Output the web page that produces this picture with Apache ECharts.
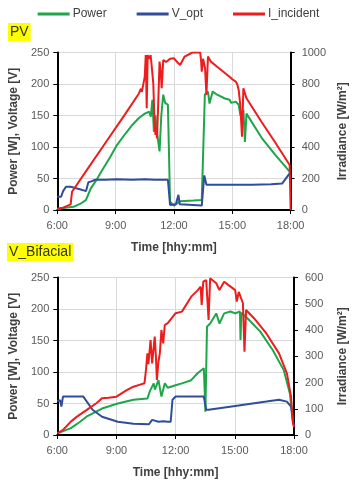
<!DOCTYPE html>
<html>
<head>
<meta charset="utf-8">
<script src="https://cdn.jsdelivr.net/npm/echarts@6/dist/echarts.min.js"></script>
<style>
    html, body { margin: 0; padding: 0; background: #fff; }
    #chart { width: 357px; height: 480px; }
</style>
</head>
<body>
<div id="chart"></div>
<script>

// time in hours
const timeTicks = [6, 9, 12, 15, 18];

const pvPower = [
    [6.0, 1.5], [6.5, 4], [6.84, 5], [7.2, 10], [7.48, 16], [7.6, 25], [7.72, 34], [8.0, 47],
    [8.27, 61], [8.7, 83], [9.07, 103], [9.5, 121], [9.86, 135], [10.2, 146], [10.5, 153],
    [10.73, 156], [10.81, 148], [10.89, 175], [10.97, 124], [11.05, 150], [11.1, 130],
    [11.26, 93], [11.35, 150], [11.45, 183], [11.55, 170], [11.69, 167], [11.8, 13], [12.0, 7],
    [12.32, 14], [13.0, 15], [13.43, 16], [13.59, 183], [13.75, 188], [13.83, 169], [13.99, 188],
    [14.22, 183], [14.62, 177], [14.86, 175], [14.95, 170], [15.18, 172], [15.33, 167],
    [15.42, 150], [15.5, 155], [15.57, 159], [15.65, 108], [15.73, 153], [16.5, 115],
    [17.2, 88], [17.95, 61]
];
const pvVopt = [
    [6.0, 21], [6.2, 21], [6.3, 30], [6.45, 37], [6.69, 37], [7.16, 33], [7.48, 30], [7.6, 44],
    [7.72, 45], [7.95, 48], [8.5, 48], [9.07, 49], [9.86, 48], [10.5, 49], [11.0, 48],
    [11.69, 48], [11.8, 8], [12.1, 9], [12.2, 10], [12.23, 24], [12.3, 9], [13.43, 7],
    [13.52, 7], [13.56, 55], [13.67, 40], [15.0, 40], [16.0, 40], [17.0, 41], [17.56, 42],
    [17.95, 58]
];
const pvIrr = [
    [6.0, 8], [6.3, 15], [6.69, 36], [6.76, 116], [7.5, 250], [8.5, 430], [9.5, 610],
    [10.2, 740], [10.3, 770], [10.35, 750], [10.5, 847], [10.55, 984], [10.6, 646],
    [10.65, 984], [10.73, 960], [10.8, 984], [10.85, 921], [10.94, 800], [11.0, 560],
    [11.05, 476], [11.1, 520], [11.13, 455], [11.2, 709], [11.26, 942], [11.32, 880],
    [11.37, 773], [11.45, 952], [11.6, 940], [11.8, 960], [12.0, 963], [12.2, 935],
    [12.32, 921], [12.55, 974], [12.95, 1000], [13.35, 1000], [13.4, 940], [13.43, 878],
    [13.5, 960], [13.6, 900], [13.67, 730], [13.75, 974], [13.9, 942], [14.0, 950],
    [14.22, 910], [14.3, 915], [14.54, 878], [14.6, 880], [14.86, 846], [15.0, 830],
    [15.18, 815], [15.25, 800], [15.33, 762], [15.41, 667], [15.5, 465], [15.57, 773],
    [15.73, 709], [16.5, 560], [17.2, 430], [17.95, 286], [18.0, 0]
];

const bfPower = [
    [6.05, 3], [6.69, 11], [7.16, 21], [7.48, 29], [8.27, 42], [9.07, 50], [9.86, 56],
    [10.57, 58], [10.7, 70], [10.89, 82], [10.95, 72], [11.13, 87], [11.28, 61], [11.45, 82],
    [11.6, 75], [12.0, 79], [12.32, 82], [12.79, 87], [13.11, 98], [13.43, 106], [13.51, 37],
    [13.59, 172], [13.75, 177], [14.06, 193], [14.22, 177], [14.46, 193], [14.78, 196],
    [15.02, 193], [15.26, 196], [15.29, 151], [15.33, 194], [15.65, 185], [16.29, 164],
    [16.92, 135], [17.48, 103], [17.79, 66], [17.95, 21]
];
const bfVopt = [
    [6.0, 54], [6.15, 55], [6.21, 45], [6.29, 61], [7.32, 61], [7.79, 40], [8.27, 29],
    [9.07, 21], [9.86, 18], [10.65, 17], [10.81, 24], [11.13, 21], [11.37, 22], [11.6, 21],
    [11.75, 21], [11.84, 56], [12.0, 61], [13.43, 61], [13.55, 40], [13.67, 40], [15.02, 46],
    [16.6, 53], [17.24, 56], [17.64, 53], [17.85, 45], [17.95, 21], [18.0, 15]
];
const bfIrr = [
    [6.0, 6], [6.3, 20], [6.69, 51], [7.0, 70], [7.48, 95], [8.0, 122], [8.27, 140],
    [8.6, 142], [9.0, 146], [9.5, 170], [9.86, 184], [10.2, 192], [10.42, 197], [10.5, 250],
    [10.57, 311], [10.62, 270], [10.73, 362], [10.81, 273], [10.94, 375], [11.0, 300],
    [11.05, 210], [11.13, 280], [11.2, 311], [11.28, 400], [11.37, 349], [11.45, 419],
    [11.6, 426], [12.0, 464], [12.32, 470], [12.79, 527], [13.1, 550], [13.27, 565],
    [13.32, 495], [13.4, 584], [13.55, 590], [13.67, 438], [13.75, 597], [14.06, 578],
    [14.22, 552], [14.46, 584], [14.7, 570], [15.02, 552], [15.1, 508], [15.2, 545],
    [15.41, 502], [15.49, 317], [15.57, 476], [15.97, 445], [16.6, 387], [17.24, 311],
    [17.64, 235], [17.85, 146], [17.95, 44], [18.0, 30]
];

const seriesNames = ['Power', 'V_opt', 'I_incident'];
const colors = ['#1fa54a', '#2f4d9c', '#ee1c1c'];

const font = 'Liberation Sans, Arial, sans-serif';
const labelColor = '#595959';

const chart = echarts.init(document.getElementById('chart'));

const makeX = (gridIndex) => ({
    type: 'value',
    gridIndex,
    min: timeTicks[0],
    max: timeTicks[timeTicks.length - 1],
    interval: 3,
    name: 'Time [hhy:mm]',
    nameLocation: 'middle',
    nameGap: 32,
    nameTextStyle: { fontFamily: font, fontSize: 12, fontWeight: 'bold', color: '#404040' },
    axisLine: { lineStyle: { color: '#000', width: 2 } },
    axisTick: { show: true, length: 4, lineStyle: { color: '#000' } },
    axisLabel: {
        fontFamily: font, fontSize: 11, color: labelColor, margin: 10,
        formatter: v => v + ':00'
    },
    splitLine: { show: true, lineStyle: { color: '#d9d9d9' } }
});

const makeLeft = (gridIndex) => ({
    type: 'value',
    gridIndex,
    min: 0,
    max: 250,
    interval: 50,
    name: 'Power [W], Voltage [V]',
    nameLocation: 'middle',
    nameGap: 36,
    nameTextStyle: { fontFamily: font, fontSize: 12, fontWeight: 'bold', color: '#404040' },
    axisLine: { show: true, lineStyle: { color: '#000', width: 2 } },
    axisTick: { show: true, length: 4, lineStyle: { color: '#000' } },
    axisLabel: { fontFamily: font, fontSize: 11, color: labelColor, margin: 8 },
    splitLine: { show: true, lineStyle: { color: '#d9d9d9' } }
});

const makeRight = (gridIndex, max, interval) => ({
    type: 'value',
    gridIndex,
    position: 'right',
    min: 0,
    max,
    interval,
    name: 'Irradiance [W/m²]',
    nameLocation: 'middle',
    nameRotate: 90,
    nameGap: 43,
    nameTextStyle: { fontFamily: font, fontSize: 12, fontWeight: 'bold', color: '#404040' },
    axisLine: { show: true, lineStyle: { color: '#000', width: 2 } },
    axisTick: { show: true, length: 4, lineStyle: { color: '#000' } },
    axisLabel: { fontFamily: font, fontSize: 11, color: labelColor, margin: 11, formatter: v => String(v) },
    splitLine: { show: false }
});

const line = (name, data, xi, yi) => ({
    name,
    type: 'line',
    xAxisIndex: xi,
    yAxisIndex: yi,
    data,
    showSymbol: false,
    symbol: 'none',
    lineStyle: { width: 2, color: colors[seriesNames.indexOf(name)] },
    itemStyle: { color: colors[seriesNames.indexOf(name)] }
});

const option = {
    animation: false,
    backgroundColor: '#fff',
    title: [
        {
            text: 'PV', left: 8, top: 23,
            backgroundColor: '#ffff00', padding: [2, 2],
            textStyle: { fontFamily: font, fontSize: 14, fontWeight: 'normal', color: '#333' }
        },
        {
            text: 'V_Bifacial', left: 7, top: 243,
            backgroundColor: '#ffff00', padding: [2, 2],
            textStyle: { fontFamily: font, fontSize: 14, fontWeight: 'normal', color: '#333' }
        }
    ],
    legend: {
        top: 3,
        left: 'center',
        itemGap: 30,
        itemWidth: 32,
        itemHeight: 3,
        icon: 'rect',
        data: seriesNames,
        textStyle: { fontFamily: font, fontSize: 12, color: '#404040', padding: [0, 0, 0, -2] }
    },
    grid: [
        { left: 51, right: 52, top: 52.5, height: 157.5 },
        { left: 51, right: 52, top: 277.5, height: 157.5 }
    ],
    xAxis: [makeX(0), makeX(1)],
    yAxis: [makeLeft(0), makeRight(0, 1000, 200), makeLeft(1), makeRight(1, 600, 100)],
    series: [
        line('Power', pvPower, 0, 0),
        line('V_opt', pvVopt, 0, 0),
        line('I_incident', pvIrr, 0, 1),
        line('Power', bfPower, 1, 2),
        line('V_opt', bfVopt, 1, 2),
        line('I_incident', bfIrr, 1, 3)
    ]
};

chart.setOption(option);

</script>
</body>
</html>
